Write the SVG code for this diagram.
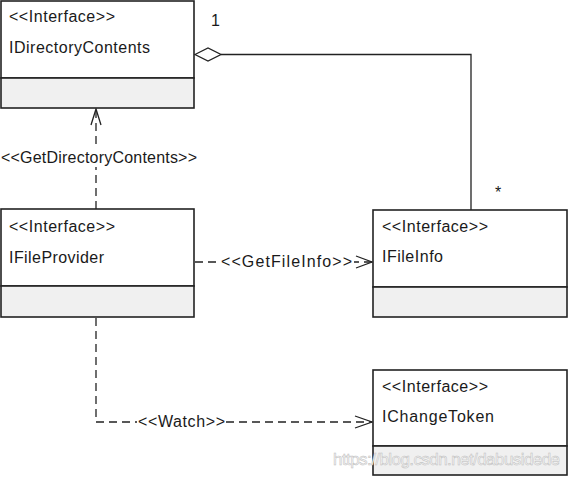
<svg xmlns="http://www.w3.org/2000/svg" width="570" height="478" viewBox="0 0 570 478">
<style>
.box{fill:#fff;stroke:#222;stroke-width:1.6}
.comp{fill:#f0f0f0;stroke:#222;stroke-width:1.6}
.t{font-family:"Liberation Sans",Arial,sans-serif;font-size:16px;fill:#1a1a1a}
.dash{fill:none;stroke:#222;stroke-width:1.3;stroke-dasharray:8 5}
.solid{fill:none;stroke:#222;stroke-width:1.3}
.arr{fill:none;stroke:#222;stroke-width:1.3}
.lbl{fill:#fff}
.wm{font-family:"Liberation Sans",Arial,sans-serif;font-size:17px;fill:#f6f6f6;stroke:#bdbdbd;stroke-width:0.5}
</style>
<rect width="570" height="478" fill="#fff"/>
<g id="connectors">
  <polyline class="solid" points="221,54.5 471,54.5 471,210"/>
  <polygon points="195,54.5 208,48 221,54.5 208,61" fill="#fff" stroke="#222" stroke-width="1.3"/>
  <text class="t" x="211" y="26">1</text>
  <text class="t" x="495" y="198">*</text>
  <line class="dash" x1="96" y1="209" x2="96" y2="109"/>
  <polyline class="arr" points="91,125 96,109 101,125"/>
  <rect class="lbl" x="1" y="149" width="199" height="18"/>
  <text class="t" x="99" y="163" text-anchor="middle" textLength="196" lengthAdjust="spacing">&lt;&lt;GetDirectoryContents&gt;&gt;</text>
  <line class="dash" x1="195" y1="262" x2="372" y2="262"/>
  <polyline class="arr" points="356,256 372,262 356,268"/>
  <rect class="lbl" x="220" y="252" width="134" height="18"/>
  <text class="t" x="286.5" y="267" text-anchor="middle" textLength="131" lengthAdjust="spacing">&lt;&lt;GetFileInfo&gt;&gt;</text>
  <polyline class="dash" points="96,318 96,422 372,422"/>
  <polyline class="arr" points="355,416 372,422 355,428"/>
  <rect class="lbl" x="137" y="412" width="89" height="18"/>
  <text class="t" x="181.5" y="427" text-anchor="middle" textLength="87" lengthAdjust="spacing">&lt;&lt;Watch&gt;&gt;</text>
</g>
<g id="IDirectoryContents">
  <rect class="box" x="1" y="1" width="193" height="77"/>
  <rect class="comp" x="1" y="78" width="193" height="30"/>
  <text class="t" x="9" y="22" textLength="106" lengthAdjust="spacing">&lt;&lt;Interface&gt;&gt;</text>
  <text class="t" x="9" y="53" textLength="141" lengthAdjust="spacing">IDirectoryContents</text>
</g>
<g id="IFileProvider">
  <rect class="box" x="1" y="209" width="193" height="77"/>
  <rect class="comp" x="1" y="286" width="193" height="31"/>
  <text class="t" x="9" y="232" textLength="106" lengthAdjust="spacing">&lt;&lt;Interface&gt;&gt;</text>
  <text class="t" x="9" y="263" textLength="95" lengthAdjust="spacing">IFileProvider</text>
</g>
<g id="IFileInfo">
  <rect class="box" x="373" y="210" width="194" height="77"/>
  <rect class="comp" x="373" y="287" width="194" height="30"/>
  <text class="t" x="382" y="232" textLength="106" lengthAdjust="spacing">&lt;&lt;Interface&gt;&gt;</text>
  <text class="t" x="382" y="262" textLength="61" lengthAdjust="spacing">IFileInfo</text>
</g>
<g id="IChangeToken">
  <rect class="box" x="373" y="370" width="194" height="76"/>
  <rect class="comp" x="373" y="446" width="194" height="29"/>
  <text class="t" x="382" y="392" textLength="106" lengthAdjust="spacing">&lt;&lt;Interface&gt;&gt;</text>
  <text class="t" x="382" y="422" textLength="112" lengthAdjust="spacing">IChangeToken</text>
</g>
<text class="wm" x="333" y="465" textLength="227" lengthAdjust="spacing">https://blog.csdn.net/dabusidede</text>
</svg>
